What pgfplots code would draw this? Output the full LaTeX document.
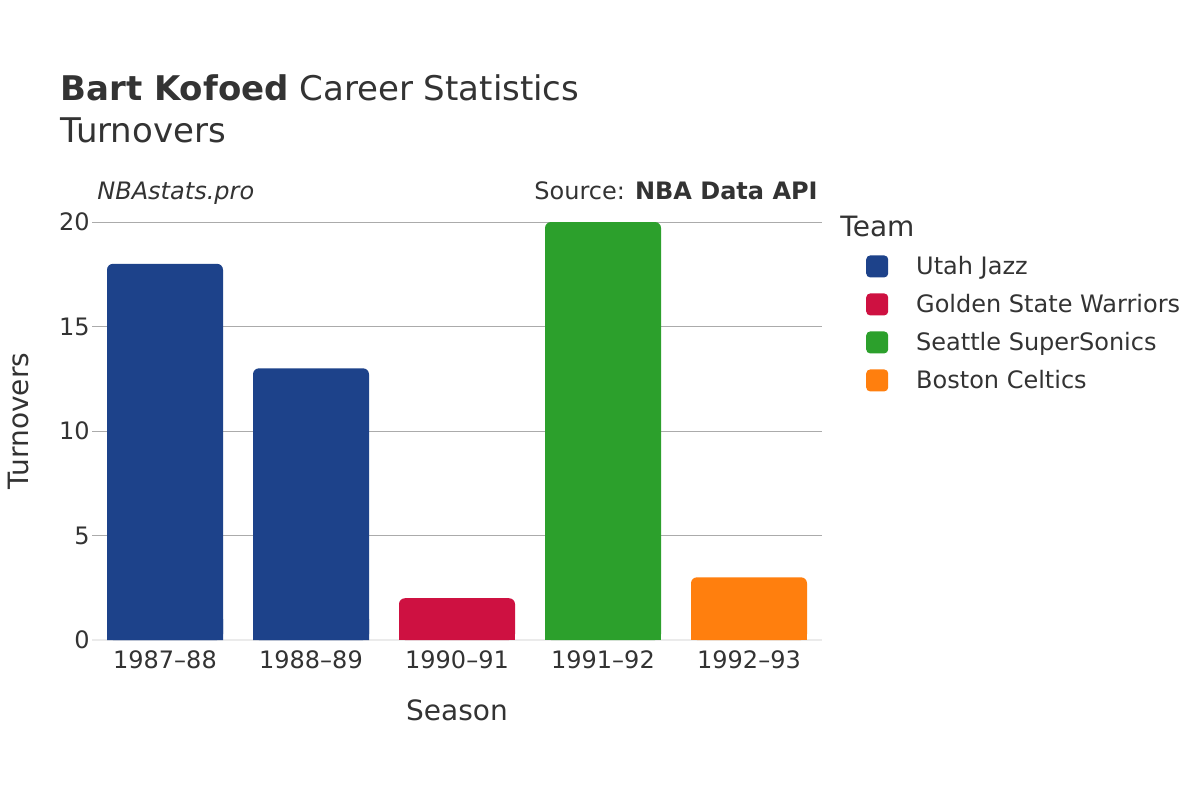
\documentclass[border=0pt]{standalone}
\usepackage{fontspec}
\setmainfont{DejaVu Sans}
\usepackage{pgfplots}
\pgfplotsset{compat=1.18}
\definecolor{jazz}{HTML}{1D428A}
\definecolor{gsw}{HTML}{CE1141}
\definecolor{sonics}{HTML}{2CA02C}
\definecolor{celtics}{HTML}{FF7F0E}
\definecolor{txt}{HTML}{333333}
\definecolor{gridc}{HTML}{ABABAB}
\definecolor{zeroc}{HTML}{EBEBEB}

\begin{document}
\begin{tikzpicture}[every node/.style={text=txt}]
\path[use as bounding box, fill=white] (0,0) rectangle (600pt,400pt);
\begin{axis}[
  at={(46pt,80pt)}, anchor=south west,
  width=365pt, height=209pt, scale only axis,
  xmin=-0.5, xmax=4.5, ymin=0, ymax=20,
  xtick={0,1,2,3,4},
  xticklabels={1987–88,1988–89,1990–91,1991–92,1992–93},
  ytick={0,5,10,15,20},
  ymajorgrids, grid style={gridc, line width=0.5pt},
  axis line style={draw=none}, major tick length=0pt,
  tick label style={font=\fontsize{12}{14}\selectfont},
  /pgf/number format/assume math mode=true,
  yticklabel style={inner sep=1pt},
  xticklabel style={yshift=-2pt},
  xlabel={Season}, ylabel={Turnovers},
  label style={font=\fontsize{14}{16}\selectfont},
  xlabel style={at={(axis description cs:0.5,-0.1675)}, anchor=center},
  ylabel style={at={(axis description cs:-0.101,0.524)}, anchor=center},
  ybar, bar width=58pt, bar shift=0pt,
  every axis plot/.append style={draw=none, rounded corners=3pt},
  legend cell align=left,
  legend style={at={(axis description cs:1.06,0.921)}, anchor=north west,
    draw=none, fill=none, inner sep=0pt, row sep=7.5pt, column sep=14pt,
    font=\fontsize{12}{14}\selectfont,
    nodes={inner sep=0pt, text height=9pt, text depth=2pt}},
  legend image code/.code={\fill[#1, rounded corners=2pt] (0pt,-5pt) rectangle (11pt,6pt);},
]
\draw[zeroc, line width=1.5pt, rounded corners=0pt] (axis cs:-0.5,0) -- (axis cs:4.5,0);
\addplot[fill=jazz] coordinates {(0,18) (1,13)};
\addlegendentry{Utah Jazz}
\addplot[fill=gsw] coordinates {(2,2)};
\addlegendentry{Golden State Warriors}
\addplot[fill=sonics] coordinates {(3,20)};
\addlegendentry{Seattle SuperSonics}
\addplot[fill=celtics] coordinates {(4,3)};
\addlegendentry{Boston Celtics}
% square off the bottom corners of the bars
\addplot[fill=jazz, rounded corners=0pt, forget plot] coordinates {(0,1) (1,1)};
\addplot[fill=gsw, rounded corners=0pt, forget plot] coordinates {(2,1)};
\addplot[fill=sonics, rounded corners=0pt, forget plot] coordinates {(3,1)};
\addplot[fill=celtics, rounded corners=0pt, forget plot] coordinates {(4,1)};
\end{axis}
\node[anchor=base west, inner sep=0pt] at (30pt,349.5pt) {\fontsize{17}{20}\selectfont\textbf{Bart Kofoed} Career Statistics};
\node[anchor=base west, inner sep=0pt] at (30pt,328.5pt) {\fontsize{17}{20}\selectfont Turnovers};
\node[anchor=base west, inner sep=0pt] at (48.5pt,300.5pt) {\fontsize{12}{14}\selectfont\itshape NBAstats.pro};
\node[anchor=base east, inner sep=0pt] at (409pt,300.5pt) {\fontsize{12}{14}\selectfont Source: \textbf{NBA Data API}};
\node[anchor=base west, inner sep=0pt] at (420pt,282pt) {\fontsize{14}{16}\selectfont Team};
\end{tikzpicture}
\end{document}
